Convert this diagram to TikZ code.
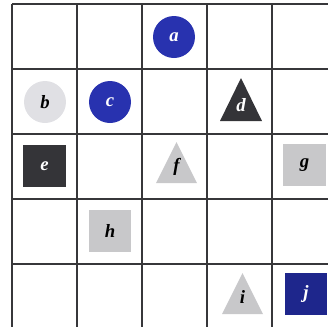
\documentclass[tikz,border=0pt]{standalone}
\usepackage{fontspec}
\setmainfont{Liberation Serif}
\usepackage{tikz}
\usetikzlibrary{positioning}
\definecolor{gridline}{RGB}{55,55,58}
\definecolor{shapeblue}{RGB}{40,50,175}
\definecolor{shapenavy}{RGB}{30,38,140}
\definecolor{shapedark}{RGB}{52,52,56}
\definecolor{shapegray}{RGB}{200,200,202}
\definecolor{shapepale}{RGB}{224,224,228}

\tikzset{
  letter/.style={font=\fontsize{16}{18}\selectfont\bfseries\itshape, inner sep=0pt},
  dot/.style={circle, minimum size=1.26cm, inner sep=0pt, letter},
  tile/.style={rectangle, minimum size=1.26cm, inner sep=0pt, letter},
}

\begin{document}
\begin{tikzpicture}[x=0.03cm, y=-0.03cm]
\useasboundingbox (0,0) rectangle (328,326);
\clip (0,0) rectangle (328,326);

% grid of 5 x 5 cells
\foreach \k in {0,...,5} {
    \draw[gridline, line width=0.9pt] (12+65*\k,4) -- (12+65*\k,334);
    \draw[gridline, line width=0.9pt] (12,4+65*\k) -- (342,4+65*\k);
}

% circles and squares
\node[dot, fill=shapeblue, text=white] (a) at (174,37) {a};
\node[dot, fill=shapepale] (b) at (45,102) {b};
\node[dot, fill=shapeblue, text=white] (c) at (110,102) {c};
\node[tile, fill=shapedark, text=white] (e) at (44.5,166) {e};
\node[tile, fill=shapegray] (g) at (304.5,165) {g};
\node[tile, fill=shapegray] (h) at (110,230.5) {h};
\node[tile, fill=shapenavy, text=white] (j) at (306,294) {j};

% triangles
\fill[shapedark] (241,78) -- (262,121) -- (220,121) -- cycle;
\node[letter, text=white] (d) at (241,105) {d};
\fill[shapegray] (176.5,142) -- (197,183) -- (156,183) -- cycle;
\node[letter] (f) at (176.5,167) {f};
\fill[shapegray] (242.5,273) -- (263,314) -- (222,314) -- cycle;
\node[letter] (i) at (242.5,297) {i};
\end{tikzpicture}
\end{document}
